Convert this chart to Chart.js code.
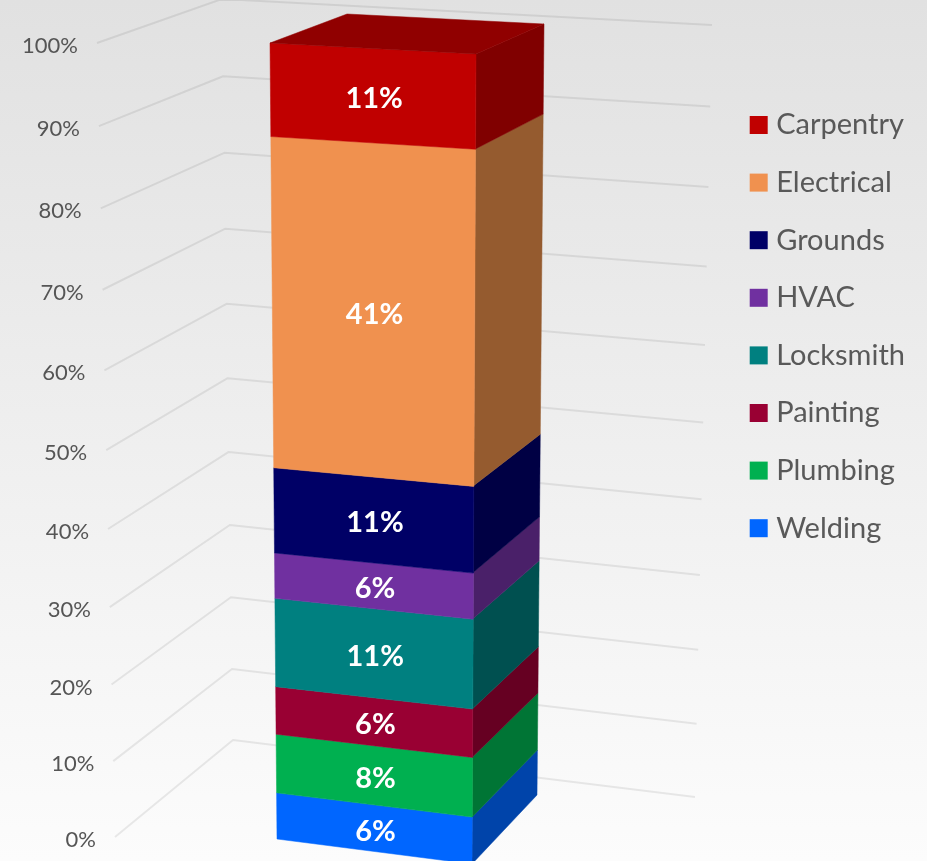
<!DOCTYPE html>
<html>
<head>
<meta charset="utf-8">
<title>Work orders by trade</title>
<script src="https://cdn.jsdelivr.net/npm/chart.js@4"></script>
<style>
  html, body { margin: 0; padding: 0; background: #f0f0f0; }
  canvas { display: block; }
</style>
</head>
<body>
<canvas id="grafico" width="927" height="861"></canvas>
<script>
const categorias = ['Total'];
const oficios = ['Welding', 'Plumbing', 'Painting', 'Locksmith', 'HVAC', 'Grounds', 'Electrical', 'Carpentry'];
const valores = [6.1, 7.7, 6.2, 11.4, 5.8, 10.8, 40.8, 11.2];
const colores = ['#0066FF', '#00B050', '#990033', '#008080', '#7030A0', '#000066', '#F0914F', '#C00000'];
const ladoColores = ['#0044AA', '#007535', '#660022', '#005050', '#4A2069', '#000044', '#955B2F', '#800000'];
const colorTapa = '#900000';
const ticksY = [0, 10, 20, 30, 40, 50, 60, 70, 80, 90, 100];

// square -> quad, corners in order (0,0) (1,0) (1,1) (0,1)
function cuadro(p) {
  const [x0, y0] = p[0], [x1, y1] = p[1], [x2, y2] = p[2], [x3, y3] = p[3];
  const dx1 = x1 - x2, dx2 = x3 - x2, sx = x0 - x1 + x2 - x3;
  const dy1 = y1 - y2, dy2 = y3 - y2, sy = y0 - y1 + y2 - y3;
  const den = dx1 * dy2 - dx2 * dy1;
  const g = (sx * dy2 - dx2 * sy) / den, h = (dx1 * sy - sx * dy1) / den;
  const a = x1 - x0 + g * x1, b = x3 - x0 + h * x3;
  const d = y1 - y0 + g * y1, e = y3 - y0 + h * y3;
  return (u, v) => {
    const w = g * u + h * v + 1;
    return [(a * u + b * v + x0) / w, (d * u + e * v + y0) / w];
  };
}

const frente = cuadro([[277, 839], [472, 864], [476, 54], [270, 43]]);
const lado = cuadro([[472, 864], [537, 795], [544, 24], [476, 54]]);
const tapa = cuadro([[270, 43], [476, 54], [544, 24], [347, 14]]);
const paredIzq = cuadro([[115, 837], [233, 740], [222, -1], [97, 43]]);
const paredFondo = cuadro([[233, 740], [695, 797], [712, 25], [222, -1]]);

function poligono(ctx, puntos, color) {
  ctx.beginPath();
  puntos.forEach((p, i) => i ? ctx.lineTo(p[0], p[1]) : ctx.moveTo(p[0], p[1]));
  ctx.closePath();
  ctx.fillStyle = color;
  ctx.fill();
  // same colour stroke hides the seams between faces
  ctx.strokeStyle = color;
  ctx.lineWidth = 0.5;
  ctx.stroke();
}

const barra3d = {
  id: 'barra3d',
  beforeDraw(chart) {
    const ctx = chart.ctx;
    const fondo = ctx.createLinearGradient(0, 0, 0, chart.height);
    fondo.addColorStop(0, '#e1e1e1');
    fondo.addColorStop(1, '#fcfcfc');
    ctx.fillStyle = fondo;
    ctx.fillRect(0, 0, chart.width, chart.height);
  },
  afterLayout(chart) {
    // legend sits up and to the right of the centre it would normally take
    const l = chart.legend;
    const ancho = l.right - l.left, alto = l.bottom - l.top;
    l.left = 727.1; l.right = l.left + ancho;
    l.top = 81.9; l.bottom = l.top + alto;
  },
  beforeDatasetsDraw(chart) {
    const ctx = chart.ctx, area = chart.chartArea, y = chart.scales.y;
    ctx.save();
    ctx.strokeStyle = 'rgba(0,0,0,0.08)';
    ctx.lineWidth = 2;
    ctx.lineJoin = 'round';
    ctx.font = '22px Lato';
    ctx.fillStyle = '#555555';
    ctx.textAlign = 'right';
    ctx.textBaseline = 'middle';
    y.ticks.forEach(t => {
      const v = (area.bottom - y.getPixelForValue(t.value)) / area.height;
      const a = paredIzq(0, v), b = paredIzq(1, v), c = paredFondo(1, v);
      ctx.beginPath();
      ctx.moveTo(a[0], a[1]);
      ctx.lineTo(b[0], b[1]);
      ctx.lineTo(c[0], c[1]);
      ctx.stroke();
      ctx.fillText(t.label, a[0] - 19, a[1] + 3);
    });
    ctx.restore();
  },
  beforeDatasetDraw() {
    return false; // bars are painted as faces in afterDatasetsDraw
  },
  afterDatasetsDraw(chart) {
    const ctx = chart.ctx, area = chart.chartArea;
    ctx.save();
    chart.data.datasets.forEach((ds, i) => {
      const barra = chart.getDatasetMeta(i).data[0];
      const v0 = (area.bottom - barra.base) / area.height;
      const v1 = (area.bottom - barra.y) / area.height;
      const u0 = (barra.x - barra.width / 2 - area.left) / area.width;
      const u1 = (barra.x + barra.width / 2 - area.left) / area.width;
      poligono(ctx, [lado(0, v0), lado(1, v0), lado(1, v1), lado(0, v1)], ladoColores[i]);
      poligono(ctx, [frente(u0, v0), frente(u1, v0), frente(u1, v1), frente(u0, v1)], colores[i]);
    });
    poligono(ctx, [tapa(0, 0), tapa(1, 0), tapa(1, 1), tapa(0, 1)], colorTapa);
    ctx.font = 'bold 29px Lato';
    ctx.fillStyle = '#ffffff';
    ctx.textAlign = 'center';
    ctx.textBaseline = 'middle';
    chart.data.datasets.forEach((ds, i) => {
      const barra = chart.getDatasetMeta(i).data[0];
      const vm = (area.bottom - (barra.base + barra.y) / 2) / area.height;
      const p = frente(0.5, vm);
      ctx.fillText(Math.round(ds.data[0]) + '%', p[0] + 2, p[1] + 3);
    });
    ctx.restore();
  }
};

new Chart(document.getElementById('grafico'), {
  type: 'bar',
  data: {
    labels: categorias,
    datasets: oficios.map((nombre, i) => ({
      label: nombre,
      data: [valores[i]],
      backgroundColor: colores[i],
      borderWidth: 0,
      barPercentage: 1,
      categoryPercentage: 1
    }))
  },
  options: {
    responsive: false,
    animation: false,
    plugins: {
      tooltip: { enabled: false },
      legend: {
        position: 'right',
        align: 'start',
        reverse: true,
        labels: {
          color: '#595959',
          font: { family: 'Lato', size: 29 },
          usePointStyle: true,
          pointStyle: 'rect',
          boxWidth: 6,
          boxHeight: 18,
          padding: 28.6
        }
      }
    },
    scales: {
      x: {
        stacked: true,
        ticks: { display: false },
        grid: { display: false },
        border: { display: false }
      },
      y: {
        stacked: true,
        min: ticksY[0],
        max: ticksY[ticksY.length - 1],
        afterBuildTicks(eje) { eje.ticks = ticksY.map(v => ({ value: v, label: v + '%' })); },
        ticks: { display: false, callback: v => v + '%' },
        grid: { display: false },
        border: { display: false }
      }
    }
  },
  plugins: [barra3d]
});
</script>
</body>
</html>
